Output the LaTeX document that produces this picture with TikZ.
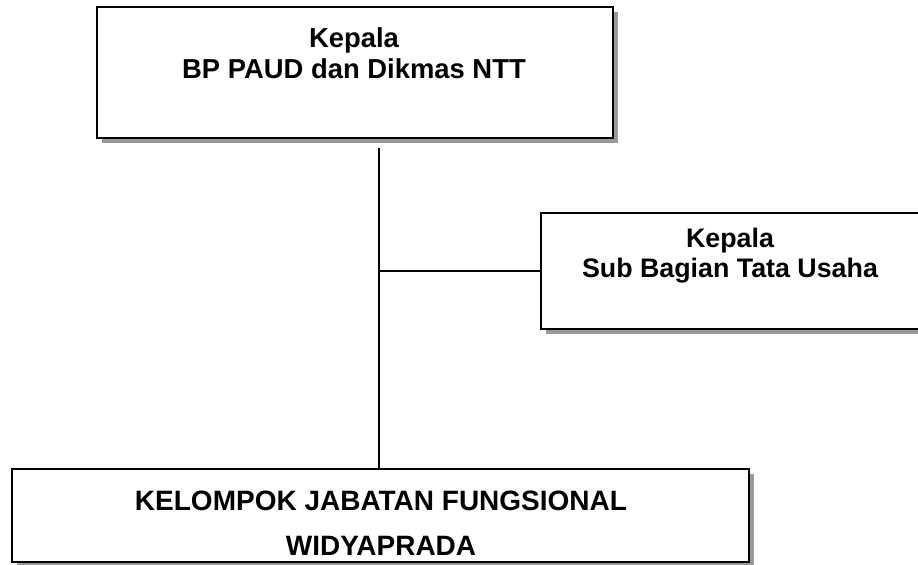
\documentclass[tikz,border=0pt]{standalone}
\usepackage{fontspec}
\setmainfont{Liberation Sans}
\usepackage{tikz}
\usetikzlibrary{calc,positioning,shadows}

\tikzset{
  box/.style = {draw, line width = 1pt, fill = white,
    drop shadow = {shadow xshift = 2.5pt, shadow yshift = -2.5pt,
      fill = black!40, opacity = 1}},
  boxtext/.style = {anchor = north, inner sep = 0pt, align = center},
  conn/.style = {line width = 1pt}
}

\begin{document}
\begin{tikzpicture}[x = 0.5pt, y = -0.5pt]
\useasboundingbox (0,0) rectangle (918,564);
% boxes
\node[box, minimum width = 258pt, minimum height = 65.5pt] (kepala) at (355,72.5) {};
\node[box, minimum width = 189pt, minimum height = 58pt] (subbag) at (730,271) {};
\node[box, minimum width = 368.5pt, minimum height = 46.5pt] (kjf) at (380.5,515.5) {};
% texts
\node[boxtext, font = \fontsize{13.7pt}{15.5pt}\selectfont\bfseries] (kepalatxt) at (354,27)
  {Kepala\\BP PAUD dan Dikmas NTT};
\node[boxtext, font = \fontsize{13.4pt}{15pt}\selectfont\bfseries] (subbagtxt) at (730,228)
  {Kepala\\Sub Bagian Tata Usaha};
\node[boxtext, font = \fontsize{14pt}{22.5pt}\selectfont\bfseries] (kjftxt) at (381,491)
  {KELOMPOK JABATAN FUNGSIONAL\\WIDYAPRADA};
% lines
\coordinate (junc) at (379,271);
\draw[conn] ($(junc |- kepala.south) + (0,9)$) -- (junc |- kjf.north);
\draw[conn] (junc) -- (subbag.west);
\end{tikzpicture}
\end{document}
